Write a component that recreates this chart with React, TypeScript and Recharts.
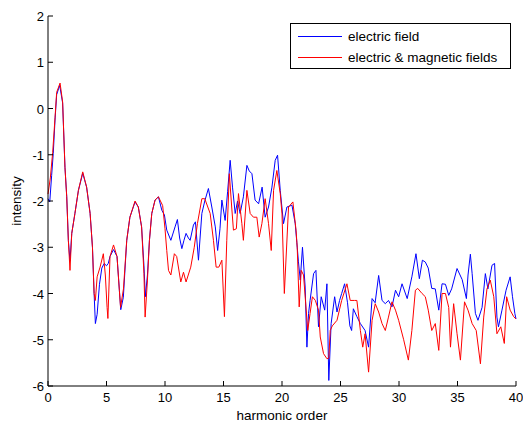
import { Label, Legend, Line, LineChart, XAxis, YAxis } from 'recharts';

// [harmonic order, intensity] pairs
const electricField: [number, number][] = [
  [0, -1.95], [0.15, -2.02], [0.31, -1.45], [0.45, -0.97], [0.6, -0.25], [0.74, 0.3], [1.0, 0.5],
  [1.25, 0.12], [1.45, -1.27], [1.6, -1.9], [1.74, -2.85], [1.88, -3.3], [2.03, -2.7], [2.3, -2.27],
  [2.6, -1.77], [2.97, -1.4], [3.3, -1.7], [3.6, -2.27], [3.8, -3.0], [3.94, -4.0], [4.05, -4.65],
  [4.2, -4.45], [4.4, -3.8], [4.6, -3.45], [4.8, -3.35], [5.0, -3.4], [5.15, -3.35], [5.3, -3.2],
  [5.6, -3.05], [5.9, -3.2], [6.1, -3.93], [6.22, -4.35], [6.44, -4.08], [6.73, -2.85], [7.0, -2.35],
  [7.44, -2.02], [7.72, -2.13], [8.0, -2.56], [8.2, -3.4], [8.32, -4.07], [8.5, -3.6], [8.67, -2.85],
  [8.87, -2.27], [9.15, -1.98], [9.44, -1.91], [9.73, -2.2], [9.95, -2.3], [10.15, -2.63], [10.5, -2.85],
  [10.86, -2.56], [11.06, -2.4], [11.25, -2.8], [11.44, -3.03], [11.62, -2.85], [11.8, -2.7], [12.0, -2.8],
  [12.15, -2.85], [12.43, -2.52], [12.6, -2.45], [12.86, -3.28], [13.15, -2.27], [13.4, -2.0], [13.71, -1.73],
  [14.0, -2.13], [14.3, -2.56], [14.5, -3.07], [14.7, -2.6], [14.86, -1.98], [15.14, -2.42], [15.35, -1.8],
  [15.57, -1.12], [15.77, -1.7], [16.0, -2.27], [16.2, -2.0], [16.42, -2.27], [16.7, -1.91], [17.0, -1.23],
  [17.2, -1.35], [17.43, -1.41], [17.7, -1.98], [18.0, -2.06], [18.3, -1.7], [18.56, -2.35], [18.85, -2.13],
  [19.14, -1.7], [19.42, -1.12], [19.62, -1.01], [19.85, -1.77], [20.13, -2.49], [20.42, -2.13], [20.85, -2.09],
  [21.13, -2.49], [21.27, -2.9], [21.4, -3.3], [21.56, -3.71], [21.75, -3.0], [21.98, -3.86], [22.13, -5.16],
  [22.27, -4.43], [22.4, -4.15], [22.7, -3.57], [22.9, -3.5], [23.12, -4.72], [23.35, -4.07], [23.65, -4.36],
  [23.84, -3.79], [24.0, -5.88], [24.2, -4.65], [24.5, -4.07], [24.7, -4.4], [24.92, -4.15], [25.1, -4.0],
  [25.35, -3.79], [25.6, -4.2], [25.8, -4.7], [25.95, -4.8], [26.1, -4.33], [26.4, -4.5], [26.7, -4.65],
  [27.1, -4.8], [27.4, -5.16], [27.7, -4.11], [27.96, -4.2], [28.26, -3.61], [28.55, -4.15], [28.83, -4.22],
  [29.1, -4.15], [29.4, -4.29], [29.7, -3.93], [29.97, -4.07], [30.26, -3.79], [30.7, -4.11], [31.1, -3.64],
  [31.45, -3.14], [31.74, -3.68], [32.0, -3.28], [32.25, -3.32], [32.5, -3.45], [32.8, -3.89], [33.1, -3.9],
  [33.4, -4.36], [33.68, -3.79], [33.97, -3.8], [34.25, -4.04], [34.5, -3.9], [34.96, -3.46], [35.4, -3.7],
  [35.76, -4.11], [35.9, -3.6], [36.1, -3.15], [36.25, -3.57], [36.53, -4.43], [36.75, -4.58], [37.1, -4.3],
  [37.38, -3.57], [37.6, -3.9], [37.95, -3.39], [38.17, -3.35], [38.37, -4.51], [38.5, -4.72], [38.8, -4.36],
  [39.15, -3.93], [39.5, -3.64], [39.7, -4.07], [39.9, -4.43], [40, -4.55],
];

const electricMagnetic: [number, number][] = [
  [0, -1.85], [0.2, -1.5], [0.4, -0.95], [0.6, -0.2], [0.74, 0.35], [1.03, 0.55], [1.25, 0.14],
  [1.45, -1.27], [1.6, -1.91], [1.74, -2.85], [1.88, -3.5], [2.03, -2.7], [2.3, -2.27], [2.6, -1.77],
  [2.97, -1.37], [3.3, -1.7], [3.6, -2.27], [3.8, -3.0], [3.94, -4.0], [4.05, -4.15], [4.2, -3.64],
  [4.45, -3.43], [4.73, -3.14], [4.9, -3.6], [5.05, -4.3], [5.12, -4.54], [5.3, -3.2], [5.6, -2.95],
  [5.9, -3.2], [6.1, -3.93], [6.2, -4.3], [6.45, -3.9], [6.73, -2.85], [7.0, -2.35], [7.44, -2.0],
  [7.72, -2.13], [8.0, -2.56], [8.2, -3.57], [8.3, -4.51], [8.5, -3.71], [8.67, -2.85], [8.87, -2.27],
  [9.15, -1.98], [9.44, -1.91], [9.8, -2.1], [10.0, -2.6], [10.15, -3.07], [10.3, -3.5], [10.5, -3.6],
  [10.8, -3.14], [11.0, -3.2], [11.35, -3.75], [11.58, -3.54], [11.8, -3.75], [12.2, -3.43], [12.5, -3.0],
  [12.77, -2.49], [13.15, -1.95], [13.4, -1.95], [13.86, -2.27], [14.14, -2.85], [14.37, -3.43], [14.6, -3.43],
  [14.86, -3.28], [15.08, -4.5], [15.28, -2.85], [15.5, -1.41], [15.7, -2.13], [15.85, -2.63], [16.1, -2.6],
  [16.28, -1.84], [16.57, -2.49], [16.7, -2.85], [17.0, -1.77], [17.28, -2.27], [17.56, -2.35], [17.85, -2.35],
  [18.05, -2.78], [18.28, -2.49], [18.56, -1.95], [18.85, -2.49], [19.08, -3.07], [19.28, -1.77], [19.56, -1.34],
  [19.85, -1.84], [20.0, -2.28], [20.2, -4.0], [20.56, -2.13], [20.93, -2.02], [21.2, -2.63], [21.3, -3.0],
  [21.47, -4.29], [21.64, -3.5], [21.84, -3.6], [22.2, -4.8], [22.4, -4.43], [22.6, -4.07], [22.85, -4.15],
  [23.12, -4.36], [23.27, -4.94], [23.55, -5.3], [23.84, -5.41], [24.0, -5.4], [24.12, -4.8], [24.3, -4.7],
  [24.7, -4.58], [25.1, -4.15], [25.55, -3.79], [25.83, -4.15], [26.2, -4.15], [26.4, -4.15], [26.7, -4.8],
  [26.9, -5.16], [27.1, -4.87], [27.4, -5.7], [27.7, -4.58], [27.97, -4.22], [28.26, -4.4], [28.55, -4.65],
  [28.83, -4.8], [29.1, -4.51], [29.4, -4.18], [29.7, -4.36], [29.97, -4.58], [30.4, -5.0], [30.8, -5.44],
  [31.1, -4.8], [31.4, -3.93], [31.6, -3.89], [31.97, -4.0], [32.25, -4.07], [32.5, -4.36], [32.8, -4.8],
  [33.1, -4.65], [33.4, -5.23], [33.68, -4.0], [33.97, -4.0], [34.25, -4.3], [34.4, -5.16], [34.67, -4.22],
  [34.96, -4.87], [35.25, -5.44], [35.6, -4.18], [35.9, -4.36], [36.25, -4.65], [36.6, -4.8], [36.96, -5.52],
  [37.24, -4.51], [37.52, -3.9], [37.8, -3.71], [38.1, -4.07], [38.37, -4.87], [38.7, -4.72], [39.0, -5.08],
  [39.2, -4.07], [39.5, -4.36], [39.8, -4.5], [40, -4.55],
];

const seriesNames = ['electric field', 'electric & magnetic fields'];
const xTicks = [0, 5, 10, 15, 20, 25, 30, 35, 40];
const yTicks = [-6, -5, -4, -3, -2, -1, 0, 1, 2];

const FONT = '"Liberation Sans", Arial, sans-serif';
const TICK_LEN = 5;

const toRows = (pairs: [number, number][]) => pairs.map(([order, intensity]) => ({ order, intensity }));

function BottomTick({ x, y, payload }: any) {
  return (
    <g>
      <line x1={x} y1={y} x2={x} y2={y - TICK_LEN} stroke="#000" />
      <text x={x} y={y + 16} textAnchor="middle" fontSize={13} fontFamily={FONT} fill="#000">
        {payload.value}
      </text>
    </g>
  );
}

function TopTick({ x, y }: any) {
  return <line x1={x} y1={y} x2={x} y2={y + TICK_LEN} stroke="#000" />;
}

function LeftTick({ x, y, payload }: any) {
  return (
    <g>
      <line x1={x} y1={y} x2={x + TICK_LEN} y2={y} stroke="#000" />
      <text x={x - 4} y={y + 5} textAnchor="end" fontSize={13} fontFamily={FONT} fill="#000">
        {payload.value}
      </text>
    </g>
  );
}

function RightTick({ x, y }: any) {
  return <line x1={x} y1={y} x2={x - TICK_LEN} y2={y} stroke="#000" />;
}

function LegendBox({ payload }: any) {
  const items = [...(payload ?? [])].sort(
    (a: any, b: any) => seriesNames.indexOf(a.value) - seriesNames.indexOf(b.value),
  );
  return (
    <div
      style={{
        width: 219,
        height: 44,
        border: '1px solid #000',
        background: '#fff',
        fontFamily: FONT,
        fontSize: 13.5,
        position: 'relative',
      }}
    >
      {items.map((entry: any, i: number) => (
        <div
          key={entry.value}
          style={{ position: 'absolute', left: 7, top: 3 + i * 21, height: 18, display: 'flex', alignItems: 'center' }}
        >
          <span style={{ display: 'inline-block', width: 44, height: 1, background: entry.color, marginRight: 6 }} />
          <span style={{ color: '#000', whiteSpace: 'nowrap' }}>{entry.value}</span>
        </div>
      ))}
    </div>
  );
}

export default function App() {
  return (
    <div style={{ position: 'absolute', left: 0, top: 0, width: 523, height: 426, background: '#fff' }}>
      <LineChart width={523} height={426} margin={{ top: 16, right: 7, bottom: 0, left: 0 }}>
        <XAxis
          dataKey="order"
          type="number"
          domain={[0, 40]}
          ticks={xTicks}
          height={40}
          axisLine={{ stroke: '#000' }}
          tickLine={false}
          tickSize={0}
          tickMargin={0}
          tick={<BottomTick />}
          interval={0}
        >
          <Label value="harmonic order" position="insideBottom" offset={6} fontSize={13.5} fontFamily={FONT} fill="#000" />
        </XAxis>
        <XAxis
          xAxisId="top"
          orientation="top"
          type="number"
          domain={[0, 40]}
          ticks={xTicks}
          height={0}
          axisLine={{ stroke: '#000' }}
          tickLine={false}
          tickSize={0}
          tickMargin={0}
          tick={<TopTick />}
          interval={0}
        />
        <YAxis
          type="number"
          domain={[-6, 2]}
          ticks={yTicks}
          width={48}
          axisLine={{ stroke: '#000' }}
          tickLine={false}
          tickSize={0}
          tickMargin={0}
          tick={<LeftTick />}
          interval={0}
        >
          <Label
            value="intensity"
            angle={-90}
            position="insideLeft"
            offset={16}
            style={{ textAnchor: 'middle' }}
            fontSize={13.5}
            fontFamily={FONT}
            fill="#000"
          />
        </YAxis>
        <YAxis
          yAxisId="right"
          orientation="right"
          type="number"
          domain={[-6, 2]}
          ticks={yTicks}
          width={0}
          axisLine={{ stroke: '#000' }}
          tickLine={false}
          tickSize={0}
          tickMargin={0}
          tick={<RightTick />}
          interval={0}
        />
        <Legend
          layout="vertical"
          align="center"
          verticalAlign="middle"
          content={<LegendBox />}
          wrapperStyle={{ position: 'absolute', left: 290, top: 23, width: 221, height: 46 }}
        />
        <Line
          data={toRows(electricField)}
          dataKey="intensity"
          name={seriesNames[0]}
          type="linear"
          stroke="#0000ff"
          strokeWidth={1}
          dot={false}
          isAnimationActive={false}
        />
        <Line
          data={toRows(electricMagnetic)}
          dataKey="intensity"
          name={seriesNames[1]}
          type="linear"
          stroke="#ff0000"
          strokeWidth={1}
          dot={false}
          isAnimationActive={false}
        />
      </LineChart>
    </div>
  );
}
